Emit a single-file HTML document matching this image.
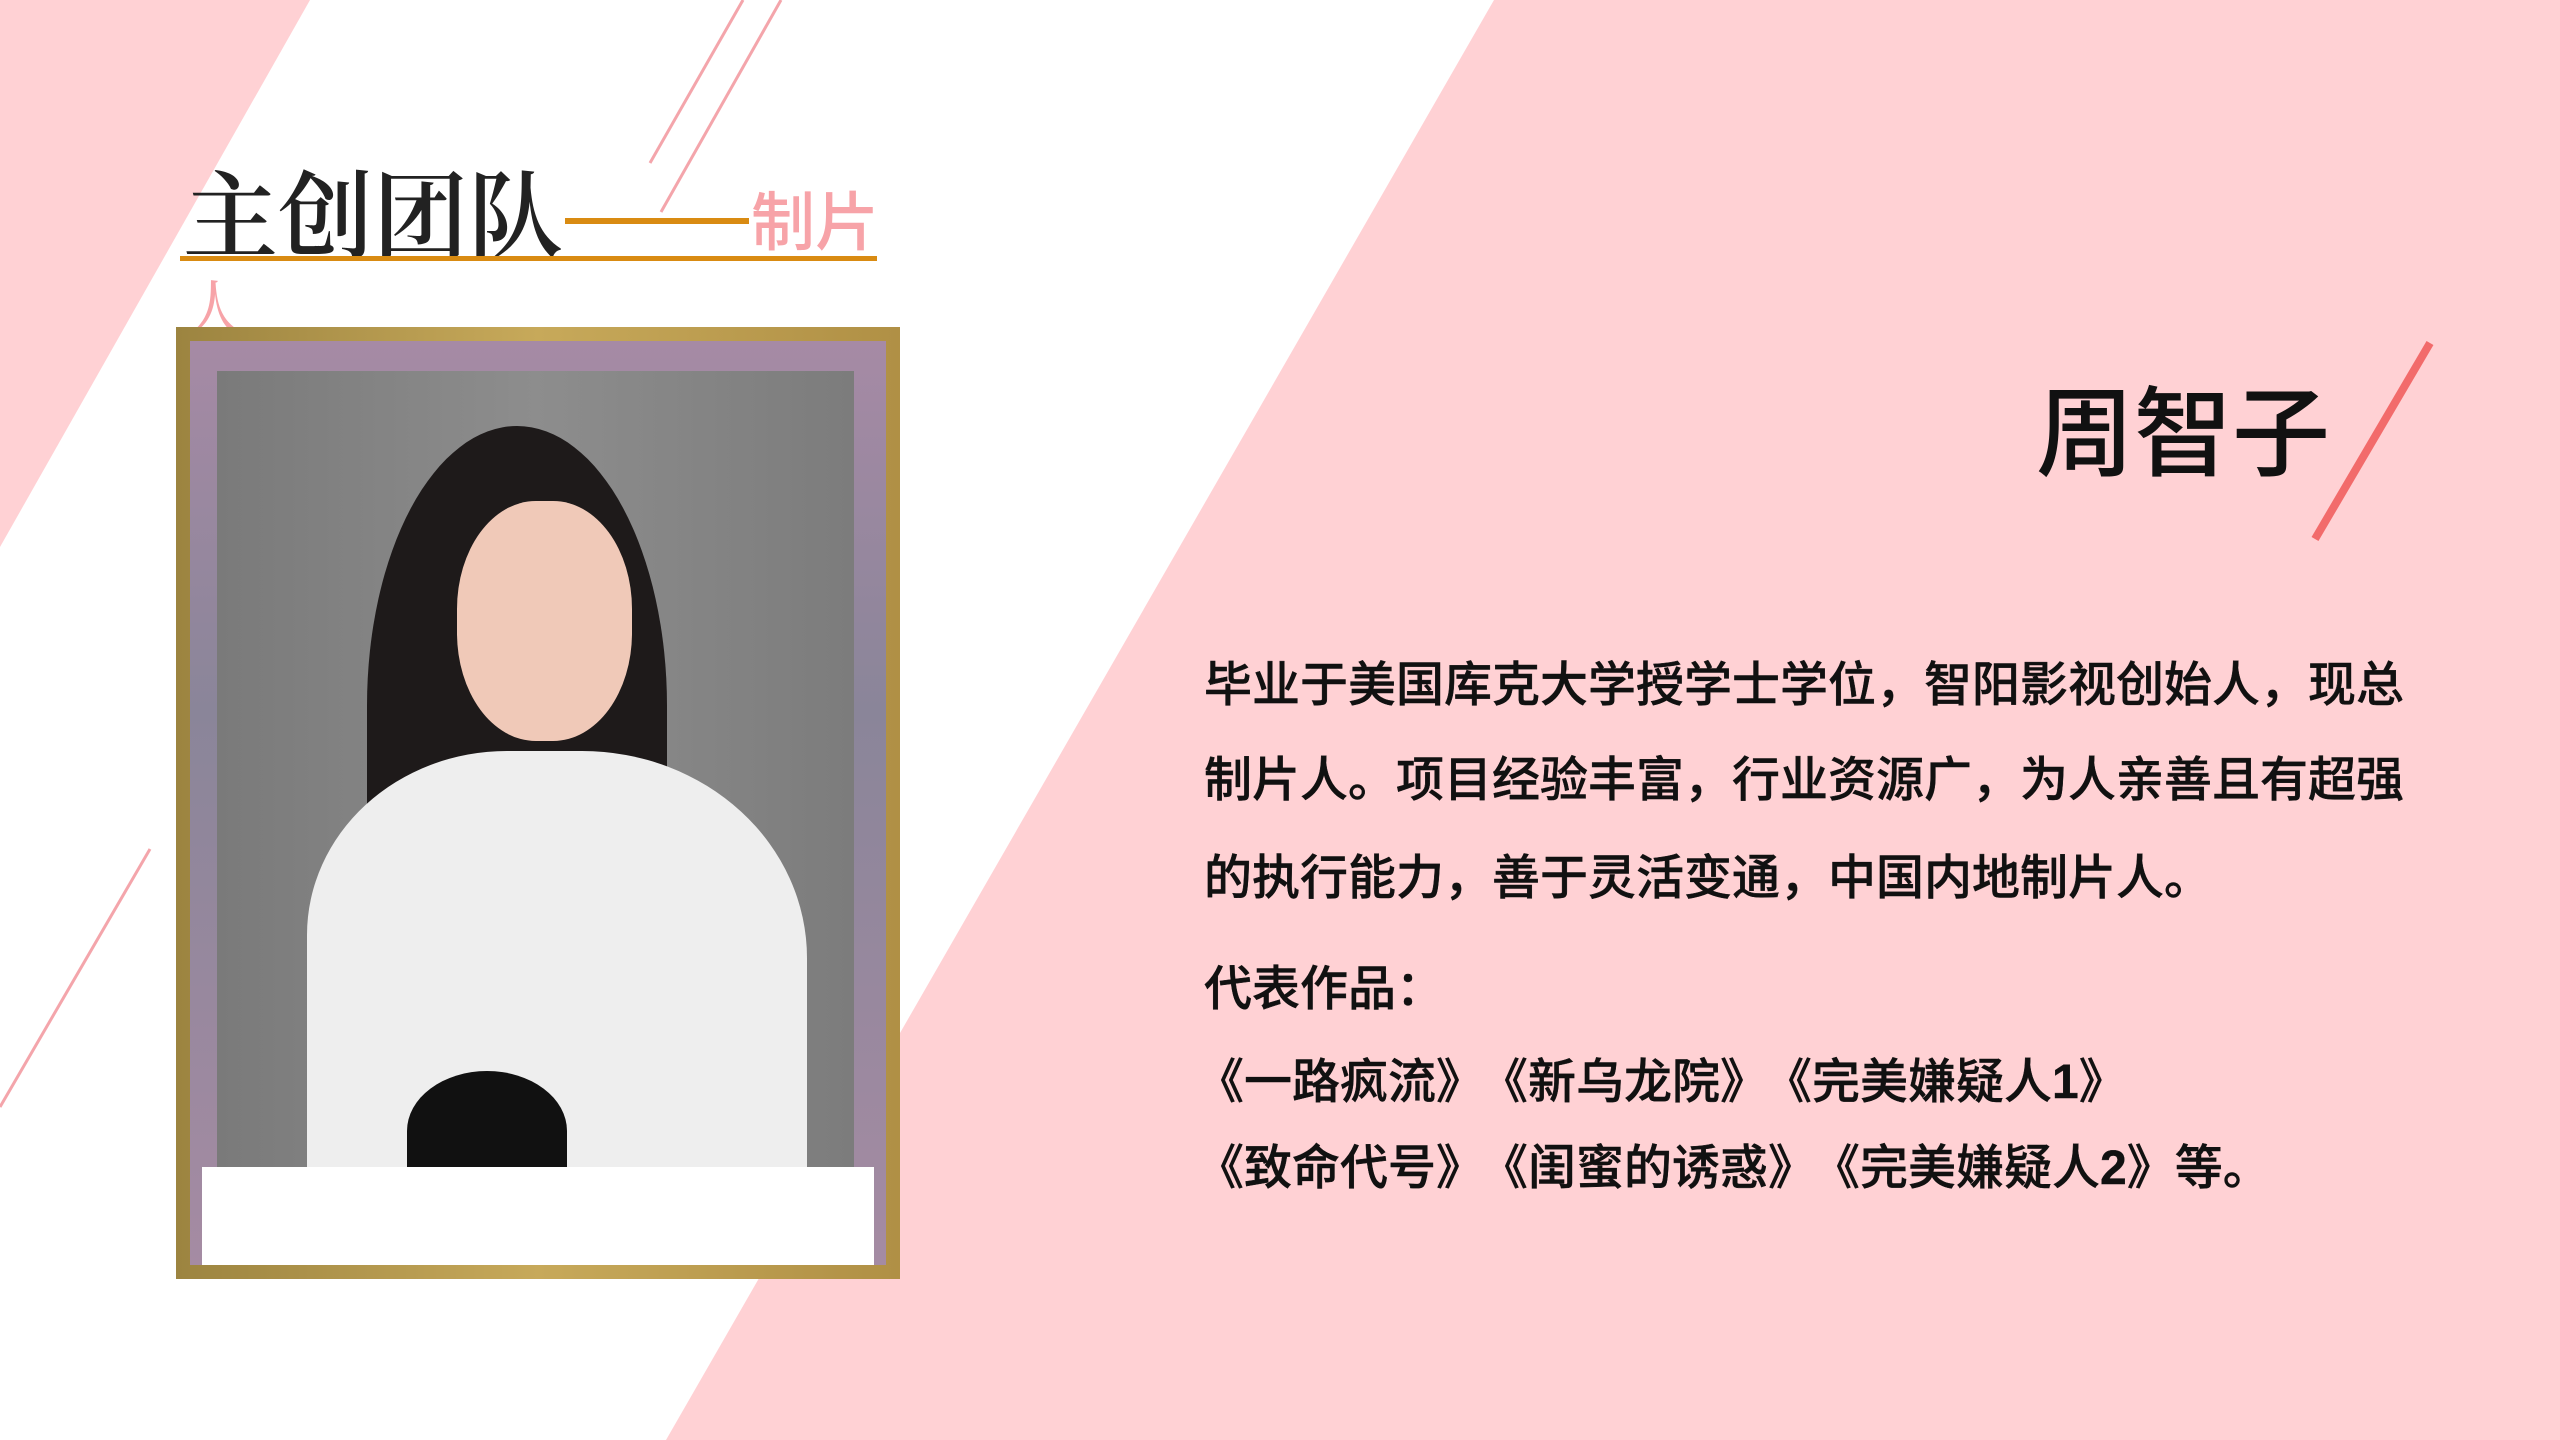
<!DOCTYPE html>
<html><head><meta charset="utf-8"><style>
html,body{margin:0;padding:0}
body{width:2560px;height:1440px;position:relative;overflow:hidden;background:#fff;font-family:"Liberation Sans","Noto Sans CJK SC",sans-serif}
.a{position:absolute;white-space:nowrap}
.t{font-size:48px;line-height:48px;color:#111;left:1204px;font-weight:500;-webkit-text-stroke:0.4px #111}
.g{margin-left:20px}
</style></head><body>
<svg class="a" style="left:0;top:0" width="2560" height="1440">
<polygon points="0,0 310,0 0,547" fill="#ffd1d4"/>
<polygon points="1494,0 2560,0 2560,1440 666,1440" fill="#ffd1d4"/>
<line x1="650" y1="163" x2="743" y2="0" stroke="#f4a5ab" stroke-width="3"/>
<line x1="661" y1="212" x2="781" y2="0" stroke="#f4a5ab" stroke-width="3"/>
<line x1="0" y1="1107" x2="150" y2="849" stroke="#f4a5ab" stroke-width="3"/>
<line x1="2430" y1="343" x2="2315" y2="539" stroke="#f26b6b" stroke-width="8"/>
</svg>
<div class="a" style="left:183px;top:160px;font-size:95px;line-height:100px;color:#222;font-weight:600;font-family:'Noto Serif CJK SC','Liberation Serif',serif">主创团队</div>
<div class="a" style="left:565px;top:218px;width:184px;height:6px;background:#d98b12"></div>
<div class="a" style="left:751px;top:190px;font-size:64px;line-height:66px;color:#f7a3a8;font-weight:500">制片</div>
<div class="a" style="left:183px;top:276px;font-size:64px;line-height:60px;color:#f7a3a8;font-family:'Noto Serif CJK SC',serif">人</div>
<div class="a" style="left:180px;top:256px;width:697px;height:5px;background:#d98b12"></div>
<div class="a" style="left:176px;top:327px;width:724px;height:952px;background:linear-gradient(90deg,#9c8440,#c7a95a 50%,#b09045);box-sizing:border-box">
 <div class="a" style="left:14px;top:14px;width:696px;height:924px;background:linear-gradient(180deg,#a68aa5,#8a8599 40%,#a58ba3)"></div>
 <div class="a" style="left:41px;top:44px;width:637px;height:796px;background:linear-gradient(90deg,#7a7a7a,#8d8d8d 50%,#7c7c7c);overflow:hidden">
  <div class="a" style="left:150px;top:55px;width:300px;height:560px;background:#1e1a1a;border-radius:50% 50% 30% 30%"></div>
  <div class="a" style="left:240px;top:130px;width:175px;height:240px;background:#f0c9b8;border-radius:45%"></div>
  <div class="a" style="left:90px;top:380px;width:500px;height:460px;background:#eeeeee;border-radius:40% 45% 0 0"></div>
  <div class="a" style="left:190px;top:700px;width:160px;height:120px;background:#111;border-radius:50% 50% 0 0"></div>
 </div>
 <div class="a" style="left:26px;top:840px;width:672px;height:98px;background:#fff"></div>
</div>
<div class="a" style="left:2036px;top:382px;font-size:98px;line-height:104px;color:#111;font-weight:500">周智子</div>
<div class="a t" style="top:662px">毕业于美国库克大学授学士学位，智阳影视创始人，现总</div>
<div class="a t" style="top:757px">制片人。项目经验丰富，行业资源广，为人亲善且有超强</div>
<div class="a t" style="top:855px">的执行能力，善于灵活变通，中国内地制片人。</div>
<div class="a t" style="top:966px">代表作品：</div>
<div class="a t" style="top:1059px;left:1196px">《一路疯流》<span class="g">《新乌龙院》</span><span class="g">《完美嫌疑人<b>1</b>》</span></div>
<div class="a t" style="top:1145px;left:1196px">《致命代号》<span class="g">《闺蜜的诱惑》</span><span class="g">《完美嫌疑人<b>2</b>》等。</span></div>
</body></html>
